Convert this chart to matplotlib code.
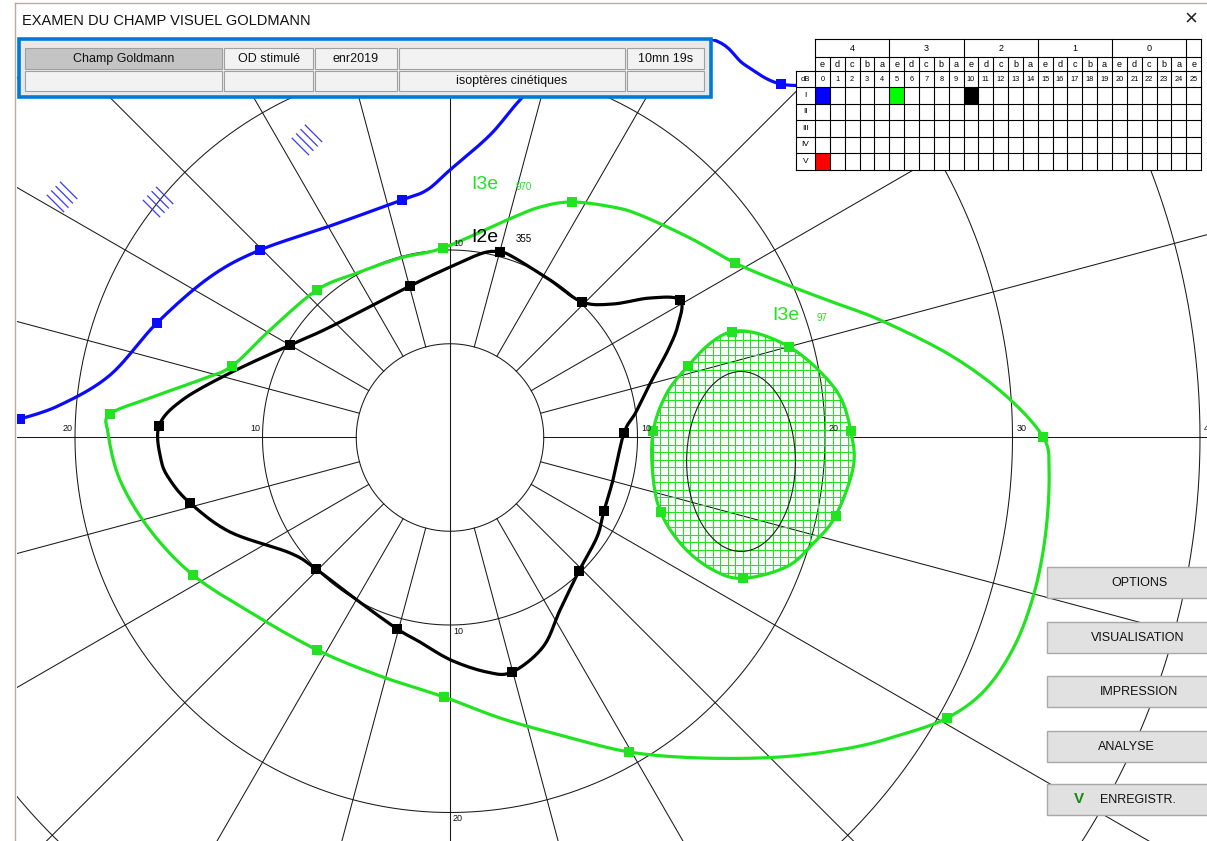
import numpy as np
import matplotlib
matplotlib.use("Agg")
import matplotlib.pyplot as plt
from matplotlib.patches import Rectangle, Polygon, Ellipse

plt.rcParams['font.family'] = ['Liberation Sans', 'DejaVu Sans']

W, H = 1207, 841
CX, CY = 450, 437.5      # fixation point in screen pixels
PX_PER_DEG = 18.75

# ---- isopters, in degrees (x right, y up) ----
blue_x = [-23.47, -22.93, -20.8, -18.13, -15.63, -12.8, -10.13, -6.4, -2.56, -1.23,
          0.0, 2.13, 3.73, 5.87, 9.07, 13.92, 15.73, 17.65, 20.27]
blue_y = [0.93, 0.99, 1.73, 3.33, 6.11, 8.56, 10.0, 11.28, 12.67, 13.2,
          14.27, 16.13, 18.0, 20.13, 21.73, 21.25, 19.87, 18.85, 18.85]
blue_marks = [1, 4, 6, 8, 17]

i3e_x = [31.63, 31.95, 31.79, 31.2, 30.13, 28.53, 26.51, 24.0, 21.33, 17.6, 13.33,
         9.55, 5.87, 2.67, -0.32, -3.73, -7.09, -10.67, -13.71, -16.0, -17.6, -18.24,
         -18.13, -16.0, -13.33, -11.63, -9.6, -7.09, -4.96, -2.67, -0.37, 3.04, 4.8,
         6.51, 8.69, 10.13, 12.8, 15.2, 17.6, 20.11, 22.93, 26.67, 29.6]
i3e_y = [0.03, -1.73, -4.93, -8.13, -11.07, -13.47, -14.96, -15.87, -16.56, -17.04, -17.09,
         -16.77, -15.87, -14.96, -13.84, -12.72, -11.33, -9.31, -7.33, -4.93, -2.27, 0.24,
         1.25, 2.11, 3.07, 3.81, 5.73, 7.87, 8.77, 9.57, 10.11, 11.6, 12.29,
         12.56, 12.29, 11.87, 10.64, 9.31, 8.29, 7.33, 6.27, 4.4, 2.27]
i3e_marks = [0, 6, 11, 14, 16, 18, 22, 25, 27, 30, 33, 37]

i2e_x = [2.67, 3.36, 5.33, 7.04, 8.69, 10.67, 12.27, 12.16, 11.63, 10.77, 9.92, 9.28,
         8.69, 8.21, 7.84, 6.88, 5.87, 4.96, 3.31, 1.97, 0.05, -1.6, -2.83, -4.96,
         -7.15, -8.53, -11.73, -13.87, -14.93, -15.41, -15.52, -14.29, -11.73, -8.53,
         -6.4, -2.13, 0.0, 1.76]
i2e_y = [9.89, 9.63, 8.4, 7.23, 7.12, 7.44, 7.33, 6.0, 4.67, 3.07, 1.36, 0.24,
         -2.27, -3.92, -5.31, -7.12, -9.2, -11.17, -12.51, -12.51, -11.87, -10.91, -10.2, -8.67,
         -7.01, -6.16, -5.04, -3.49, -2.27, -1.2, 0.61, 1.99, 3.44, 4.93,
         5.89, 8.08, 9.09, 9.84]
i2e_marks = [0, 3, 6, 11, 13, 15, 18, 22, 24, 27, 30, 33, 35]

spot_x = [15.02, 16.36, 18.08, 19.56, 20.8, 21.37, 21.51, 20.57, 19.38, 17.96, 15.64,
          14.04, 12.44, 11.24, 10.81, 10.84, 11.56, 12.71, 13.87]
spot_y = [5.64, 5.56, 4.84, 3.69, 2.18, 0.36, -1.56, -4.17, -5.64, -6.89, -7.51,
          -7.07, -5.82, -3.99, -1.91, 0.36, 2.36, 3.83, 5.02]
spot_marks = [0, 2, 5, 7, 10, 13, 15, 17]

# physiological blind spot (centre, width, height in degrees)
blind_spot = (15.52, -1.28, 5.8, 9.6)
# relative scotoma hatch marks (centres, degrees)
scotoma_x = [-20.69, -15.57, -7.63]
scotoma_y = [12.83, 12.56, 15.87]

circle_radii = [5, 10, 20, 30, 40]
meridians = list(range(0, 360, 15))

# ---- screen texts ----
title = "EXAMEN DU CHAMP VISUEL GOLDMANN"
hdr_row1 = ['Champ Goldmann', 'OD stimulé', 'enr2019', '', '10mn 19s']
hdr_row2 = ['', '', '', 'isoptères cinétiques', '']
grp_labels = ['4', '3', '2', '1', '0']
letters = ['e', 'd', 'c', 'b', 'a']
db_vals = [str(v) for v in range(26)]
row_labels = ['I', 'II', 'III', 'IV', 'V']
filled_cells = [('I', 0, '#0000ff'), ('I', 5, '#00ff00'), ('I', 10, '#000000'), ('V', 0, '#ff0000')]
buttons = ['OPTIONS', 'VISUALISATION', 'IMPRESSION', 'ANALYSE', 'ENREGISTR.']

BLUE = '#0a0aff'
GREEN = '#22e322'


def smooth(xs, ys, closed, n=10):
    # catmull-rom through the read points, only for drawing
    P = np.column_stack([xs, ys])
    if closed:
        P = np.vstack([P[-1], P, P[0], P[1]])
    else:
        P = np.vstack([P[0], P, P[-1]])
    t = np.linspace(0, 1, n, endpoint=False)[:, None]
    out = []
    for i in range(1, len(P) - 2):
        p0, p1, p2, p3 = P[i - 1], P[i], P[i + 1], P[i + 2]
        out.append(0.5 * (2 * p1 + (p2 - p0) * t + (2 * p0 - 5 * p1 + 4 * p2 - p3) * t ** 2
                          + (3 * p1 - p0 - 3 * p2 + p3) * t ** 3))
    out.append(P[-2][None])
    return np.vstack(out)


fig = plt.figure(figsize=(W / 100, H / 100), dpi=100)
fig.patch.set_facecolor('white')

# main perimeter axes, placed in screen pixels
left_px, top_px = 17, 39
ax = fig.add_axes([left_px / W, 0, (W - left_px) / W, (H - top_px) / H])
ax.set_xlim((left_px - CX) / PX_PER_DEG, (W - CX) / PX_PER_DEG)
ax.set_ylim((CY - H) / PX_PER_DEG, (CY - top_px) / PX_PER_DEG)
ax.set_aspect('equal')
ax.axis('off')

gkw = dict(color='#1a1a1a', lw=0.75, zorder=1)
theta = np.linspace(0, 2 * np.pi, 720)
for r in circle_radii:
    ax.plot(r * np.cos(theta), r * np.sin(theta), **gkw)
for m in meridians:
    a = np.radians(m)
    r0 = -60 if m in (90, 270) else 5
    ax.plot([r0 * np.cos(a), 60 * np.cos(a)], [r0 * np.sin(a), 60 * np.sin(a)], **gkw)

# eccentricity labels
lkw = dict(fontsize=6.5, color='#111111', zorder=5)
for r in [20, 10]:
    ax.text(-r - 0.12, 0.22, str(r), ha='right', va='bottom', **lkw)
for r in [10, 20, 30, 40]:
    ax.text(r + 0.2, 0.22, str(r), ha='left', va='bottom', **lkw)
for r in [10, 20]:
    ax.text(0.16, -r - 0.1, str(r), ha='left', va='top', **lkw)
ax.text(0.16, 10.1, '10', ha='left', va='bottom', **lkw)

# blind spot hatch + ellipse
spot_curve = smooth(spot_x, spot_y, True)
spot_poly = Polygon(spot_curve, closed=True, fc='none', ec='none')
ax.add_patch(spot_poly)
for gx in np.arange(10.4, 21.8, 0.4):
    ln, = ax.plot([gx, gx], [-8, 6], color=GREEN, lw=0.8, zorder=2)
    ln.set_clip_path(spot_poly)
for gy in np.arange(-7.6, 6.0, 0.4):
    ln, = ax.plot([10, 22], [gy, gy], color=GREEN, lw=0.8, zorder=2)
    ln.set_clip_path(spot_poly)
bx, by, bw, bh = blind_spot
ax.add_patch(Ellipse((bx, by), bw, bh, fc='none', ec='#1a1a1a', lw=0.8, zorder=2))

# scotoma hatch marks
d = np.array([1, -1]) / np.sqrt(2)
p = np.array([1, 1]) / np.sqrt(2)
for sx, sy in zip(scotoma_x, scotoma_y):
    for k in range(4):
        c = np.array([sx, sy]) + (k - 1.5) * 0.33 * p
        a0, a1 = c - 0.62 * d, c + 0.62 * d
        ax.plot([a0[0], a1[0]], [a0[1], a1[1]], color='#3a3aff', lw=0.9, zorder=2)


def isopter(xs, ys, marks, color, closed=True):
    curve = smooth(xs, ys, closed)
    ax.plot(curve[:, 0], curve[:, 1], color=color, lw=2.3, solid_joinstyle='round',
            solid_capstyle='round', zorder=3)
    ax.plot([xs[i] for i in marks], [ys[i] for i in marks], 's', color=color,
            ms=6.5, mew=0, zorder=4)


isopter(blue_x, blue_y, blue_marks, BLUE, closed=False)
isopter(i3e_x, i3e_y, i3e_marks, GREEN)
isopter(spot_x, spot_y, spot_marks, GREEN)
isopter(i2e_x, i2e_y, i2e_marks, 'black')

ax.text(1.87, 13.47, 'I3e', color=GREEN, fontsize=14, ha='center', va='center', zorder=5)
ax.text(3.95, 13.36, '970', color=GREEN, fontsize=7, ha='center', va='center', zorder=5)
ax.text(1.87, 10.69, 'I2e', color='black', fontsize=14, ha='center', va='center', zorder=5)
ax.text(3.95, 10.59, '355', color='black', fontsize=7, ha='center', va='center', zorder=5)
ax.text(17.92, 6.48, 'I3e', color=GREEN, fontsize=14, ha='center', va='center', zorder=5)
ax.text(19.84, 6.37, '97', color=GREEN, fontsize=7, ha='center', va='center', zorder=5)

# ---- screen furniture, pixel coordinates ----
ui = fig.add_axes([0, 0, 1, 1], zorder=10)
ui.set_xlim(0, W)
ui.set_ylim(H, 0)
ui.axis('off')
ui.patch.set_alpha(0)

ui.plot([15, 15], [3, H], color='#b8ada0', lw=1)
ui.plot([15, W], [3, 3], color='#b8ada0', lw=1)
ui.text(22, 21, title, fontsize=10.5, color='#111111', va='center', ha='left')
ui.text(1191, 19, '×', fontsize=16, color='#222222', va='center', ha='center')

# header box
ui.add_patch(Rectangle((19, 39), 692, 58, fc='#e9e9e9', ec='#0078d7', lw=2.6))
col_edges = [(25, 222), (224, 313), (315, 397), (399, 625), (627, 704)]
for (y0, y1), row in zip([(48, 69), (71, 91)], [hdr_row1, hdr_row2]):
    for k, ((x0, x1), txt) in enumerate(zip(col_edges, row)):
        fc = '#c4c4c4' if (k == 0 and row is hdr_row1) else '#f2f2f2'
        ui.add_patch(Rectangle((x0, y0), x1 - x0, y1 - y0, fc=fc, ec='#a0a0a0', lw=0.8))
        if txt:
            ui.text((x0 + x1) / 2, (y0 + y1) / 2, txt, fontsize=9, color='#111111',
                    ha='center', va='center')

# stimulus table
tx0, cw = 815, 14.85
lab_x0 = 796
row_y = [39, 57, 71, 87, 103.5, 120, 136.5, 153, 169.5]
tx1 = tx0 + 26 * cw
ui.add_patch(Rectangle((tx0, row_y[0]), tx1 - tx0, row_y[-1] - row_y[0], fc='white', ec='none'))
ui.add_patch(Rectangle((lab_x0, row_y[2]), tx0 - lab_x0, row_y[-1] - row_y[2], fc='white', ec='none'))
for rl, c, col in filled_cells:
    r = row_labels.index(rl)
    ui.add_patch(Rectangle((tx0 + c * cw, row_y[3 + r]), cw, row_y[4 + r] - row_y[3 + r],
                           fc=col, ec='none'))
tk = dict(color='black', lw=0.8)
for k, y in enumerate(row_y):
    ui.plot([tx0 if k < 2 else lab_x0, tx1], [y, y], **tk)
ui.plot([lab_x0, lab_x0], [row_y[2], row_y[-1]], **tk)
for c in range(27):
    x = tx0 + c * cw
    ui.plot([x, x], [row_y[0] if c % 5 == 0 or c == 26 else row_y[1], row_y[-1]], **tk)
for g, lab in enumerate(grp_labels):
    ui.text(tx0 + (g * 5 + 2.5) * cw, (row_y[0] + row_y[1]) / 2, lab, fontsize=6.5,
            ha='center', va='center')
for c in range(26):
    xc = tx0 + (c + 0.5) * cw
    ui.text(xc, (row_y[1] + row_y[2]) / 2, letters[c % 5], fontsize=6.5, ha='center', va='center')
    ui.text(xc, (row_y[2] + row_y[3]) / 2, db_vals[c], fontsize=5.3, ha='center', va='center')
ui.text((lab_x0 + tx0) / 2, (row_y[2] + row_y[3]) / 2, 'dB', fontsize=5.5, ha='center', va='center')
for r, lab in enumerate(row_labels):
    ui.text((lab_x0 + tx0) / 2, (row_y[3 + r] + row_y[4 + r]) / 2, lab, fontsize=6,
            ha='center', va='center')

# buttons
btn_top = [567, 622, 676, 731, 784]
btn_cx = [1139, 1138, 1139, 1126, 1138]
for top, cx, lab in zip(btn_top, btn_cx, buttons):
    ui.add_patch(Rectangle((1047, top), 175, 31, fc='#e1e1e1', ec='#a8a8a8', lw=1))
    ui.text(cx, top + 16, lab, fontsize=9, color='#111111', ha='center', va='center')
ui.text(1079, btn_top[-1] + 15, 'V', fontsize=11, color='#138a13', fontweight='bold',
        ha='center', va='center')

fig.savefig('out.png', dpi=100)
